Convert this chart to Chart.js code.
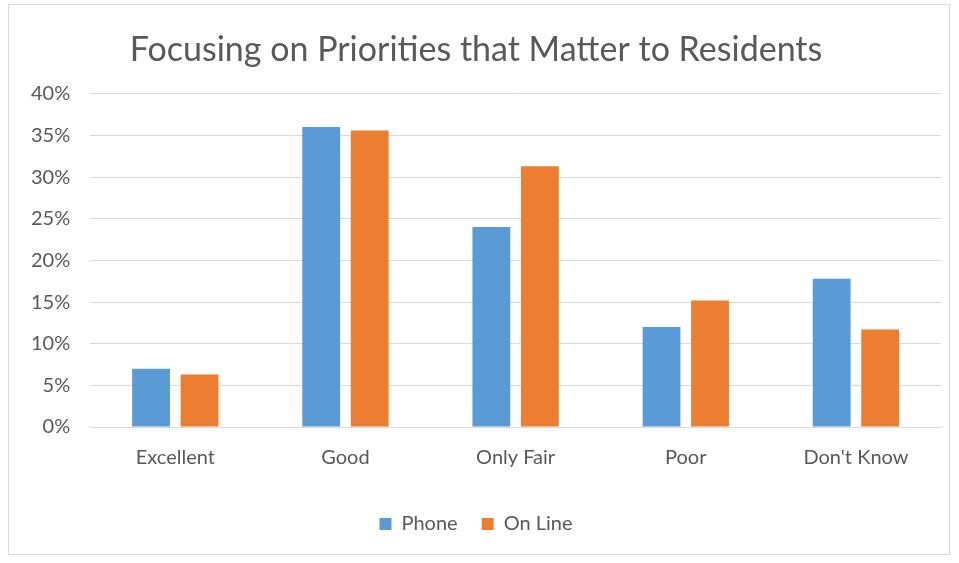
<!DOCTYPE html>
<html>
<head>
<meta charset="utf-8">
<script src="https://cdn.jsdelivr.net/npm/chart.js@4"></script>
<style>
  html, body { margin: 0; padding: 0; background: #fff; }
  #wrap {
    position: absolute; left: 8px; top: 4px; width: 942px; height: 551px;
    border: 1px solid #d9d9d9; box-sizing: border-box;
  }
</style>
</head>
<body>
<div id="wrap"><canvas id="chart"></canvas></div>
<script>
// Survey ratings, percent of responses
const categories = ["Excellent", "Good", "Only Fair", "Poor", "Don't Know"];
const phone = [7.0, 36.0, 24.0, 12.0, 17.8];
const onLine = [6.3, 35.6, 31.3, 15.2, 11.7];
const yTicks = [0, 5, 10, 15, 20, 25, 30, 35, 40];

const textColor = "#595959";
const font = "Lato, 'Open Sans', sans-serif";

new Chart(document.getElementById("chart"), {
  type: "bar",
  data: {
    labels: categories,
    datasets: [
      { label: "Phone", data: phone, backgroundColor: "#5b9bd5" },
      { label: "On Line", data: onLine, backgroundColor: "#ed7d31" }
    ]
  },
  options: {
    responsive: true,
    maintainAspectRatio: false,
    animation: false,
    datasets: { bar: { categoryPercentage: 0.57, barPercentage: 0.78 } },
    layout: { padding: { left: 2, right: 8, top: 8, bottom: 10 } },
    plugins: {
      title: {
        display: true,
        text: "Focusing on Priorities that Matter to Residents",
        color: textColor,
        font: { family: font, size: 34, weight: "normal" },
        padding: { top: 17, bottom: 23 }
      },
      legend: {
        position: "bottom",
        labels: {
          color: textColor,
          font: { family: font, size: 20 },
          boxWidth: 12, boxHeight: 12,
          padding: 24
        }
      },
      tooltip: { enabled: false }
    },
    scales: {
      x: {
        grid: { display: false },
        border: { color: "#d9d9d9" },
        ticks: { color: textColor, font: { family: font, size: 20 }, padding: 11 },
        afterFit: axis => { axis.height += 9; }  // room between labels and legend
      },
      y: {
        min: 0, max: 40,
        afterBuildTicks: axis => { axis.ticks = yTicks.map(v => ({ value: v })); },
        grid: { color: "#d9d9d9", drawTicks: false },
        border: { display: false },
        ticks: {
          color: textColor,
          font: { family: font, size: 20 },
          padding: 20,
          callback: v => v + "%"
        }
      }
    }
  }
});
</script>
</body>
</html>
